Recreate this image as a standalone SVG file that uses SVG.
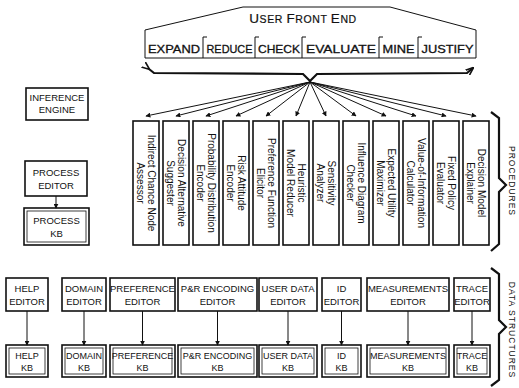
<svg xmlns="http://www.w3.org/2000/svg" width="519" height="388" viewBox="0 0 519 388">
<defs>
<style>
.bx{fill:#fff;stroke:#111;stroke-width:1.6}
.kbi{fill:none;stroke:#111;stroke-width:0.8}
.ln{fill:none;stroke:#111;stroke-width:1}
.thick{fill:none;stroke:#111;stroke-width:2.2;stroke-linejoin:miter}
.t{font-family:"Liberation Sans",Arial,sans-serif;font-size:9.5px;fill:#111;text-anchor:middle}
.k{font-family:"Liberation Sans",Arial,sans-serif;font-size:9px;fill:#111;text-anchor:middle}
.v{font-family:"Liberation Sans",Arial,sans-serif;font-size:10px;fill:#111;text-anchor:middle}
.btn{font-family:"Liberation Sans",Arial,sans-serif;font-size:11.5px;fill:#111;stroke:#111;stroke-width:0.3;text-anchor:middle}
.side{font-family:"Liberation Sans",Arial,sans-serif;font-size:8.5px;fill:#111;text-anchor:middle;letter-spacing:1px}
</style>
<marker id="ah" viewBox="0 0 8 8" refX="7" refY="4" markerWidth="5" markerHeight="5" markerUnits="userSpaceOnUse" orient="auto">
<path d="M0,0 L8,4 L0,8 z" fill="#111"/>
</marker>
<marker id="oh" viewBox="0 0 10 10" refX="9" refY="5" markerWidth="8" markerHeight="8" markerUnits="userSpaceOnUse" orient="auto">
<path d="M0,1 L10,5 L0,9" fill="none" stroke="#111" stroke-width="2"/>
</marker>
</defs>
<rect width="519" height="388" fill="#fff"/>

<g id="user-front-end">
<path class="ln" d="M145,58 L145,30 L243,7 L390,7 L476,30 L476,58 Z" stroke-width="1.3"/>
<text x="303" y="23" font-family="Liberation Sans,Arial,sans-serif" fill="#111" stroke="#111" stroke-width="0.2" text-anchor="middle" font-size="10.5px" letter-spacing="0.6"><tspan font-size="13.5px">U</tspan>SER <tspan font-size="13.5px">F</tspan>RONT <tspan font-size="13.5px">E</tspan>ND</text>
<g class="ln" stroke-width="1.3">
<path d="M203,58 L203,37 L207,37"/>
<path d="M255,58 L255,37 L259,37"/>
<path d="M302,58 L302,37 L306,37"/>
<path d="M379,58 L379,37 L383,37"/>
<path d="M418,58 L418,37 L422,37"/>
</g>
<text class="btn" x="174" y="53" textLength="52" lengthAdjust="spacingAndGlyphs">EXPAND</text>
<text class="btn" x="229.5" y="53" textLength="46" lengthAdjust="spacingAndGlyphs">REDUCE</text>
<text class="btn" x="279" y="53" textLength="42" lengthAdjust="spacingAndGlyphs">CHECK</text>
<text class="btn" x="341" y="53" textLength="70" lengthAdjust="spacingAndGlyphs">EVALUATE</text>
<text class="btn" x="398.5" y="53" textLength="32" lengthAdjust="spacingAndGlyphs">MINE</text>
<text class="btn" x="447.5" y="53" textLength="52" lengthAdjust="spacingAndGlyphs">JUSTIFY</text>
</g>

<g id="inference-engine">
<rect class="bx" x="26" y="88" width="62" height="32"/>
<text class="t" x="57" y="101">INFERENCE</text>
<text class="t" x="57" y="113">ENGINE</text>
</g>
<g id="process-editor">
<rect class="bx" x="25" y="161" width="62" height="35"/>
<text class="t" x="56" y="176">PROCESS</text>
<text class="t" x="56" y="189">EDITOR</text>
</g>
<g id="process-kb">
<rect class="bx" x="24" y="208" width="65" height="37"/>
<rect class="kbi" x="27" y="211" width="59" height="31"/>
<text class="t" x="56.5" y="224">PROCESS</text>
<text class="t" x="56.5" y="237">KB</text>
</g>

<g id="p1"><rect class="bx" x="133" y="121" width="26" height="124"/><g transform="translate(146,183) rotate(90)"><text class="v" y="-2">Indirect Chance Node</text><text class="v" y="9">Assessor</text></g></g>
<g id="p2"><rect class="bx" x="163" y="121" width="26" height="124"/><g transform="translate(176,183) rotate(90)"><text class="v" y="-2">Decision Alternative</text><text class="v" y="9">Suggester</text></g></g>
<g id="p3"><rect class="bx" x="193" y="121" width="26" height="124"/><g transform="translate(206,183) rotate(90)"><text class="v" y="-2">Probability Distribution</text><text class="v" y="9">Encoder</text></g></g>
<g id="p4"><rect class="bx" x="223" y="121" width="26" height="124"/><g transform="translate(236,183) rotate(90)"><text class="v" y="-2">Risk Attitude</text><text class="v" y="9">Encoder</text></g></g>
<g id="p5"><rect class="bx" x="253" y="121" width="26" height="124"/><g transform="translate(266,183) rotate(90)"><text class="v" y="-2">Preference Function</text><text class="v" y="9">Elicitor</text></g></g>
<g id="p6"><rect class="bx" x="283" y="121" width="26" height="124"/><g transform="translate(296,183) rotate(90)"><text class="v" y="-2">Heuristic</text><text class="v" y="9">Model Reducer</text></g></g>
<g id="p7"><rect class="bx" x="313" y="121" width="26" height="124"/><g transform="translate(326,183) rotate(90)"><text class="v" y="-2">Sensitivity</text><text class="v" y="9">Analyzer</text></g></g>
<g id="p8"><rect class="bx" x="343" y="121" width="26" height="124"/><g transform="translate(356,183) rotate(90)"><text class="v" y="-2">Influence Diagram</text><text class="v" y="9">Checker</text></g></g>
<g id="p9"><rect class="bx" x="373" y="121" width="26" height="124"/><g transform="translate(386,183) rotate(90)"><text class="v" y="-2">Expected Utility</text><text class="v" y="9">Maximizer</text></g></g>
<g id="p10"><rect class="bx" x="403" y="121" width="26" height="124"/><g transform="translate(416,183) rotate(90)"><text class="v" y="-2">Value-of-Information</text><text class="v" y="9">Calculator</text></g></g>
<g id="p11"><rect class="bx" x="433" y="121" width="26" height="124"/><g transform="translate(446,183) rotate(90)"><text class="v" y="-2">Fixed Policy</text><text class="v" y="9">Evaluator</text></g></g>
<g id="p12"><rect class="bx" x="463" y="121" width="26" height="124"/><g transform="translate(476,183) rotate(90)"><text class="v" y="-2">Decision Model</text><text class="v" y="9">Explainer</text></g></g>

<g id="help-editor"><rect class="bx" x="6" y="278" width="42" height="33"/><text class="t" x="27" y="292">HELP</text><text class="t" x="27" y="305">EDITOR</text></g>
<g id="domain-editor"><rect class="bx" x="62" y="278" width="44" height="33"/><text class="t" x="84" y="292">DOMAIN</text><text class="t" x="84" y="305">EDITOR</text></g>
<g id="preference-editor"><rect class="bx" x="110" y="278" width="65" height="33"/><text class="t" x="142.5" y="292">PREFERENCE</text><text class="t" x="142.5" y="305">EDITOR</text></g>
<g id="pr-encoding-editor"><rect class="bx" x="178" y="278" width="79" height="33"/><text class="t" x="217.5" y="292">P&amp;R ENCODING</text><text class="t" x="217.5" y="305">EDITOR</text></g>
<g id="user-data-editor"><rect class="bx" x="259" y="278" width="58" height="33"/><text class="t" x="288" y="292">USER DATA</text><text class="t" x="288" y="305">EDITOR</text></g>
<g id="id-editor"><rect class="bx" x="322" y="278" width="39" height="33"/><text class="t" x="341.5" y="292">ID</text><text class="t" x="341.5" y="305">EDITOR</text></g>
<g id="measurements-editor"><rect class="bx" x="367" y="278" width="82" height="33"/><text class="t" x="408" y="292">MEASUREMENTS</text><text class="t" x="408" y="305">EDITOR</text></g>
<g id="trace-editor"><rect class="bx" x="454" y="278" width="36" height="33"/><text class="t" x="472" y="292">TRACE</text><text class="t" x="472" y="305">EDITOR</text></g>

<g id="help-kb"><rect class="bx" x="6" y="345" width="42" height="32"/><rect class="kbi" x="9" y="348" width="36" height="26"/><text class="k" x="27" y="359">HELP</text><text class="k" x="27" y="371">KB</text></g>
<g id="domain-kb"><rect class="bx" x="62" y="345" width="44" height="32"/><rect class="kbi" x="65" y="348" width="38" height="26"/><text class="k" x="84" y="359">DOMAIN</text><text class="k" x="84" y="371">KB</text></g>
<g id="preference-kb"><rect class="bx" x="110" y="345" width="65" height="32"/><rect class="kbi" x="113" y="348" width="59" height="26"/><text class="k" x="142.5" y="359">PREFERENCE</text><text class="k" x="142.5" y="371">KB</text></g>
<g id="pr-encoding-kb"><rect class="bx" x="178" y="345" width="79" height="32"/><rect class="kbi" x="181" y="348" width="73" height="26"/><text class="k" x="217.5" y="359">P&amp;R ENCODING</text><text class="k" x="217.5" y="371">KB</text></g>
<g id="user-data-kb"><rect class="bx" x="259" y="345" width="58" height="32"/><rect class="kbi" x="262" y="348" width="52" height="26"/><text class="k" x="288" y="359">USER DATA</text><text class="k" x="288" y="371">KB</text></g>
<g id="id-kb"><rect class="bx" x="322" y="345" width="39" height="32"/><rect class="kbi" x="325" y="348" width="33" height="26"/><text class="k" x="341.5" y="359">ID</text><text class="k" x="341.5" y="371">KB</text></g>
<g id="measurements-kb"><rect class="bx" x="367" y="345" width="82" height="32"/><rect class="kbi" x="370" y="348" width="76" height="26"/><text class="k" x="408" y="359">MEASUREMENTS</text><text class="k" x="408" y="371">KB</text></g>
<g id="trace-kb"><rect class="bx" x="454" y="345" width="36" height="32"/><rect class="kbi" x="457" y="348" width="30" height="26"/><text class="k" x="472" y="359">TRACE</text><text class="k" x="472" y="371">KB</text></g>

<g id="procedures-label">
<path class="thick" d="M491,112 L499,118 L499,178 L506,185 L499,192 L499,244 L491,251" stroke-width="2.5"/>
<text class="side" transform="translate(509,181) rotate(90)">PROCEDURES</text>
</g>
<g id="data-structures-label">
<path class="thick" d="M491,268 L499,274 L499,320 L506,327 L499,334 L499,380 L491,386" stroke-width="2.5"/>
<text class="side" transform="translate(509,330) rotate(90)">DATA STRUCTURES</text>
</g>

<g id="connectors">
<path class="thick" d="M149,69 L154,73 L303,74 L310,81 L317,74 L467,73 L473,68" marker-start="url(#oh)" marker-end="url(#oh)"/>
<g class="ln" stroke-width="0.9" marker-end="url(#ah)">
<line x1="310" y1="82" x2="146" y2="116"/>
<line x1="310" y1="82" x2="176" y2="116"/>
<line x1="310" y1="82" x2="206" y2="116"/>
<line x1="310" y1="82" x2="236" y2="116"/>
<line x1="310" y1="82" x2="266" y2="116"/>
<line x1="310" y1="82" x2="296" y2="116"/>
<line x1="310" y1="82" x2="326" y2="116"/>
<line x1="310" y1="82" x2="356" y2="116"/>
<line x1="310" y1="82" x2="386" y2="116"/>
<line x1="310" y1="82" x2="416" y2="116"/>
<line x1="310" y1="82" x2="446" y2="116"/>
<line x1="310" y1="82" x2="476" y2="116"/>
<line x1="56" y1="196" x2="56" y2="208"/>
<line x1="27" y1="311" x2="27" y2="345"/>
<line x1="84" y1="311" x2="84" y2="345"/>
<line x1="142.5" y1="311" x2="142.5" y2="345"/>
<line x1="217.5" y1="311" x2="217.5" y2="345"/>
<line x1="288" y1="311" x2="288" y2="345"/>
<line x1="341.5" y1="311" x2="341.5" y2="345"/>
<line x1="408" y1="311" x2="408" y2="345"/>
<line x1="472" y1="311" x2="472" y2="345"/>
</g>
</g>
</svg>
